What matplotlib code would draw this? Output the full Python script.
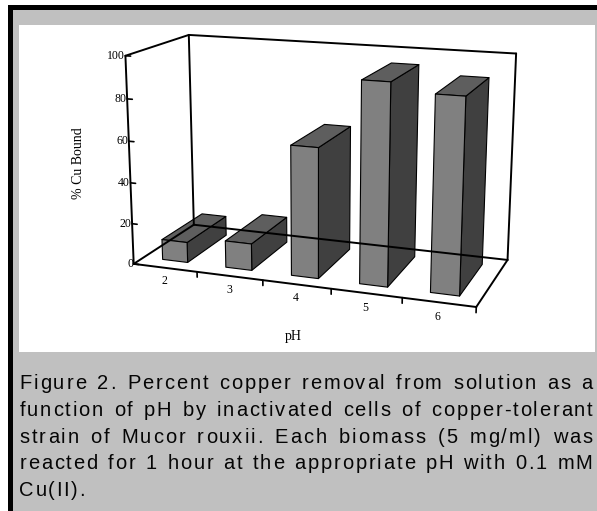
import numpy as np
import matplotlib
matplotlib.use("Agg")
import matplotlib.pyplot as plt
from matplotlib.patches import Polygon, Rectangle
from matplotlib.font_manager import FontProperties, findfont
from matplotlib.ft2font import FT2Font

# ---------------- data ----------------
categories = ["2", "3", "4", "5", "6"]
cu_bound = [10, 13, 62, 94, 90]
y_ticks = [0, 20, 40, 60, 80, 100]
y_label = "% Cu Bound"
x_label = "pH"
caption_lines = [
    "Figure 2.  Percent copper removal from solution as a",
    "function of pH by inactivated cells of copper-tolerant",
    "strain of Mucor rouxii. Each biomass (5 mg/ml) was",
    "reacted for 1 hour at the appropriate pH with 0.1 mM",
    "Cu(II).",
]

# ---------------- layout ----------------
DPI = 100
W, H = 597, 511
BG = "#c0c0c0"
SERIF = FontProperties(family="Liberation Serif")
SANS = FontProperties(family="Liberation Sans")

# camera calibration of the 3D box: (category position, value fraction, depth) -> pixel
BOX_WORLD = np.array([[0, 0, 0], [0, 1, 0], [0, 0, 1], [0, 1, 1], [5, 0, 1], [5, 1, 1],
                      [5, 0, 0], [1, 0, 0], [2, 0, 0], [3, 0, 0], [4, 0, 0]], float)
BOX_PIX = np.array([[134, 262.7], [125, 56], [193.3, 226.7], [189.3, 34.3], [507.7, 258],
                    [516, 54], [476.7, 308.3], [197.3, 271.1], [263.3, 279.9],
                    [330.7, 288.9], [401.7, 298.3]], float)
BAR_HALF = 0.2
Z_FRONT, Z_BACK = 0.16, 0.84


def fit_camera(world, pix):
    c = np.array([300.0, 200.0])
    s = 200.0
    un = (pix - c) / s
    rows = []
    for (X, Y, Z), (u, v) in zip(world, un):
        rows.append([X, Y, Z, 1, 0, 0, 0, 0, -u * X, -u * Y, -u * Z, -u])
        rows.append([0, 0, 0, 0, X, Y, Z, 1, -v * X, -v * Y, -v * Z, -v])
    _, _, vt = np.linalg.svd(np.array(rows))
    P = vt[-1].reshape(3, 4)
    T = np.array([[s, 0, c[0]], [0, s, c[1]], [0, 0, 1]])
    return T @ P


CAM = fit_camera(BOX_WORLD, BOX_PIX)


def proj(x, val, z):
    h = CAM @ np.array([x, val / 100.0, z, 1.0])
    return h[0] / h[2], h[1] / h[2]


fig = plt.figure(figsize=(W / DPI, H / DPI), dpi=DPI, facecolor=BG)
ax = fig.add_axes([0, 0, 1, 1])
ax.set_xlim(0, W)
ax.set_ylim(H, 0)
ax.axis("off")

# frame decoration
ax.add_patch(Rectangle((0, 0), W, 5, color="white", lw=0))
ax.add_patch(Rectangle((0, 0), 8, H, color="white", lw=0))
ax.add_patch(Rectangle((8, 5), W - 8, 5, color="black", lw=0))
ax.add_patch(Rectangle((8, 5), 5, H - 5, color="black", lw=0))
ax.add_patch(Rectangle((19, 25), 576, 327, color="white", lw=0))

n = len(categories)
FRAME_LW = 1.4


def seg(a, b, lw=FRAME_LW):
    p, q = proj(*a), proj(*b)
    ax.plot([p[0], q[0]], [p[1], q[1]], color="black", lw=lw, solid_capstyle="round")


# back walls and floor (drawn before bars)
seg((0, 0, 1), (n, 0, 1))
seg((n, 0, 0), (n, 0, 1))
seg((0, 0, 0), (0, 0, 1))
seg((0, 0, 1), (0, 100, 1))
seg((n, 0, 1), (n, 100, 1))
seg((0, 100, 0), (0, 100, 1))
seg((0, 100, 1), (n, 100, 1))

# bars
FRONT_C, SIDE_C, TOP_C = "#808080", "#404040", "#5e5e5e"
for i, v in enumerate(cu_bound):
    x0, x1 = i + 0.5 - BAR_HALF, i + 0.5 + BAR_HALF
    faces = [
        ([(x1, 0, Z_FRONT), (x1, 0, Z_BACK), (x1, v, Z_BACK), (x1, v, Z_FRONT)], SIDE_C),
        ([(x0, v, Z_FRONT), (x1, v, Z_FRONT), (x1, v, Z_BACK), (x0, v, Z_BACK)], TOP_C),
        ([(x0, 0, Z_FRONT), (x1, 0, Z_FRONT), (x1, v, Z_FRONT), (x0, v, Z_FRONT)], FRONT_C),
    ]
    for pts, col in faces:
        ax.add_patch(Polygon([proj(*p) for p in pts], closed=True, facecolor=col,
                             edgecolor="black", lw=0.8, joinstyle="round"))

# front axes
seg((0, 0, 0), (n, 0, 0))
seg((0, 0, 0), (0, 100, 0))

# value ticks and labels
for t in y_ticks:
    seg((0, t, 0), (0.08, t, 0), lw=1.2)
    u, vv = proj(0, t, 0)
    ax.text(u - 0.5, vv, str(t), fontproperties=SERIF, fontsize=8.5, ha="right",
            va="center", color="black")

# category ticks and labels
for k in range(1, n + 1):
    seg((k, 0, 0), (k, -2.6, 0), lw=1.2)
for i, c in enumerate(categories):
    u, vv = proj(i + 0.5, -6.8, 0)
    ax.text(u - 1, vv, c, fontproperties=SERIF, fontsize=8.5, ha="center", va="center")

u, vv = proj(2.45, -25.5, 0)
ax.text(u, vv, x_label, fontproperties=SERIF, fontsize=10, ha="center", va="center")
ax.text(79, 163, y_label, fontproperties=SERIF, fontsize=10, rotation=90,
        ha="center", va="center")

# ---------------- caption (letter-spaced, justified) ----------------
CAP_PT = 14.5
TRACK = 1.6
cap_font = FT2Font(findfont(SANS), hinting_factor=1)
cap_font.set_size(CAP_PT, DPI)


def adv(ch):
    g = cap_font.load_char(ord(ch))
    return g.linearHoriAdvance / 65536.0


def draw_line(text, x0, x1, y, justify):
    words = text.split()
    nchars = sum(len(w) for w in words)
    widths = [sum(adv(c) for c in w) + TRACK * (len(w) - 1) for w in words]
    track = TRACK
    if justify and len(words) > 1:
        natural = sum(widths) + (len(words) - 1) * (adv(" ") + 2 * TRACK)
        extra = max(x1 - x0 - natural, 0.0)
        # share the stretch between letters and word gaps
        track = TRACK + 0.4 * extra / max(nchars - len(words), 1)
        widths = [sum(adv(c) for c in w) + track * (len(w) - 1) for w in words]
        gap = (x1 - x0 - sum(widths)) / (len(words) - 1)
    else:
        gap = adv(" ") + 2 * TRACK
    x = x0
    for w, wd in zip(words, widths):
        cx = x
        for ch in w:
            ax.text(cx, y, ch, fontproperties=SANS, fontsize=CAP_PT, ha="left",
                    va="baseline", color="#050505")
            cx += adv(ch) + track
        x += wd + gap


base0, step = 389.3, 26.7
for k, line in enumerate(caption_lines):
    draw_line(line, 19.3, 592.5, base0 + k * step, justify=(k < len(caption_lines) - 1))

fig.savefig("out.png", dpi=DPI, facecolor=BG)
